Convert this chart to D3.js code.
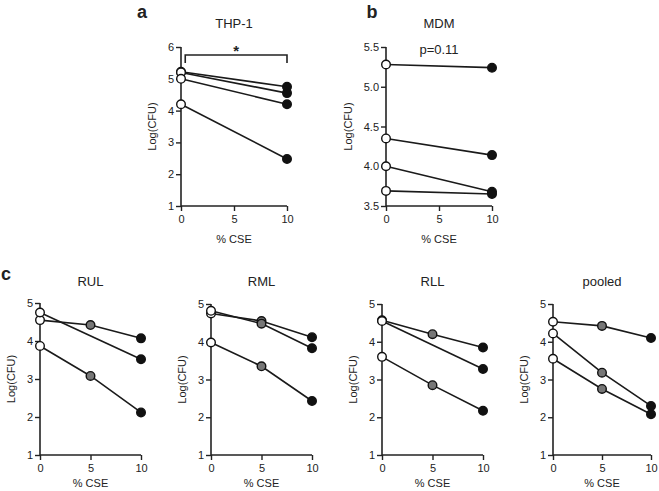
<!DOCTYPE html>
<html><head><meta charset="utf-8">
<script src="https://cdn.jsdelivr.net/npm/d3@7"></script>
<style>
html,body{margin:0;padding:0;background:#fff;}
text{font-family:"Liberation Sans",Arial,sans-serif;fill:#222;}
</style></head>
<body>
<svg id="chart" width="659" height="491"></svg>
<script>
// x categories (% CSE)
const cseLevels = [0, 5, 10];
const xTicks = [0, 5, 10];

// Panel a: THP-1 (values at 0, 5, 10 % CSE; null = not measured)
const thp1 = [
  [5.22, null, 4.75],
  [5.20, null, 4.55],
  [5.00, null, 4.20],
  [4.20, null, 2.48]
];
const thp1Ticks = [1, 2, 3, 4, 5, 6];

// Panel b: MDM
const mdm = [
  [5.28, null, 5.24],
  [4.35, null, 4.14],
  [4.00, null, 3.68],
  [3.69, null, 3.65]
];
const mdmTicks = [3.5, 4.0, 4.5, 5.0, 5.5];

// Panel c: lung lobes
const rul = [
  [4.55, 4.42, 4.07],
  [4.75, null, 3.52],
  [3.87, 3.08, 2.12]
];
const rml = [
  [4.75, 4.55, 4.12],
  [4.82, 4.48, 3.83],
  [3.98, 3.35, 2.43]
];
const rll = [
  [4.57, 4.20, 3.85],
  [4.55, null, 3.28],
  [3.60, 2.85, 2.17]
];
const pooled = [
  [4.53, 4.42, 4.10],
  [4.22, 3.18, 2.30],
  [3.55, 2.75, 2.08]
];
const lobeTicks = [1, 2, 3, 4, 5];

const svg = d3.select("#chart");
const pointFill = ["#ffffff", "#777777", "#111111"];

function panel(o) {
  const g = svg.append("g");
  const x = d3.scaleLinear().domain([0, 10]).range([o.x0, o.x1]);
  const y = d3.scaleLinear().domain(o.domain).range([o.yb, o.yt]);
  const yAx = g.append("g").attr("transform", `translate(${o.x0},0)`)
    .call(d3.axisLeft(y).tickValues(o.ticks).tickSize(5).tickPadding(2)
      .tickFormat(o.fmt || d3.format("d")));
  const xAx = g.append("g").attr("transform", `translate(0,${o.yb})`)
    .call(d3.axisBottom(x).tickValues(xTicks).tickSize(5).tickPadding(4).tickFormat(d3.format("d")));
  [yAx, xAx].forEach(a => {
    a.select(".domain").attr("stroke", "#222").attr("stroke-width", 1.6);
    a.selectAll(".tick line").attr("stroke", "#222").attr("stroke-width", 1.4);
    a.selectAll(".tick text").style("font-size", "11px").attr("fill", "#333")
      .style("font-family", "Liberation Sans, Arial, sans-serif");
  });
  yAx.select(".domain").attr("d", `M0,${o.yt}V${o.yb}`);
  xAx.select(".domain").attr("d", `M${o.x0},0H${o.x1}`);

  const line = d3.line().x(d => x(d.c)).y(d => y(d.v));
  o.data.forEach(s => {
    const pts = s.map((v, i) => ({c: cseLevels[i], v})).filter(d => d.v != null);
    g.append("path").datum(pts).attr("d", line).attr("fill", "none")
      .attr("stroke", "#1a1a1a").attr("stroke-width", 1.6);
  });
  o.data.forEach(s => {
    s.forEach((v, i) => {
      if (v == null) return;
      g.append("circle").attr("cx", x(cseLevels[i])).attr("cy", y(v)).attr("r", 4.3)
        .attr("fill", pointFill[i]).attr("stroke", "#111").attr("stroke-width", 1.4);
    });
  });
  g.append("text").attr("x", (o.x0 + o.x1) / 2).attr("y", o.titleY)
    .attr("text-anchor", "middle").style("font-size", "13px").text(o.title);
  g.append("text").attr("x", (o.x0 + o.x1) / 2).attr("y", o.xlabY)
    .attr("text-anchor", "middle").style("font-size", "11px").text("% CSE");
  g.append("text").attr("transform", `translate(${o.x0 - o.ylabOff},${(o.yt + o.yb) / 2}) rotate(-90)`)
    .attr("text-anchor", "middle").style("font-size", "11px").text("Log(CFU)");
  return {g, x, y};
}

const pa = panel({data: thp1, domain: [1, 6], ticks: thp1Ticks, x0: 181, x1: 287, yt: 47, yb: 206,
  title: "THP-1", titleY: 28, ylabOff: 25, xlabY: 243});
// significance bracket
const bx0 = pa.x(0.4), bx1 = pa.x(10), by = 55;
pa.g.append("path").attr("d", `M${bx0},${by + 8}V${by}H${bx1}V${by + 8}`)
  .attr("fill", "none").attr("stroke", "#222").attr("stroke-width", 1.6);
pa.g.append("text").attr("x", (bx0 + bx1) / 2).attr("y", 56).attr("text-anchor", "middle")
  .style("font-size", "15px").style("font-weight", "bold").text("*");

const pb = panel({data: mdm, domain: [3.5, 5.5], ticks: mdmTicks, x0: 386, x1: 492, yt: 47, yb: 206,
  title: "MDM", titleY: 28, ylabOff: 34, xlabY: 243, fmt: d3.format(".1f")});
pb.g.append("text").attr("x", pb.x(5)).attr("y", 54).attr("text-anchor", "middle")
  .style("font-size", "13px").text("p=0.11");

panel({data: rul, domain: [1, 5], ticks: lobeTicks, x0: 40, x1: 141, yt: 303, yb: 455,
  title: "RUL", titleY: 286, ylabOff: 25, xlabY: 487});
panel({data: rml, domain: [1, 5], ticks: lobeTicks, x0: 211, x1: 312, yt: 304, yb: 455,
  title: "RML", titleY: 286, ylabOff: 25, xlabY: 487});
panel({data: rll, domain: [1, 5], ticks: lobeTicks, x0: 382, x1: 483, yt: 304, yb: 455,
  title: "RLL", titleY: 286, ylabOff: 25, xlabY: 487});
panel({data: pooled, domain: [1, 5], ticks: lobeTicks, x0: 553, x1: 651, yt: 304, yb: 455,
  title: "pooled", titleY: 286, ylabOff: 25, xlabY: 487});

// panel letters
[["a", 142, 18], ["b", 372, 18], ["c", 6, 280]].forEach(([t, px, py]) => {
  svg.append("text").attr("x", px).attr("y", py).attr("text-anchor", "middle")
    .style("font-size", "18px").style("font-weight", "bold")
    .style("font-family", "Liberation Sans, Arial, sans-serif").attr("fill", "#111").text(t);
});
</script>
</body></html>
